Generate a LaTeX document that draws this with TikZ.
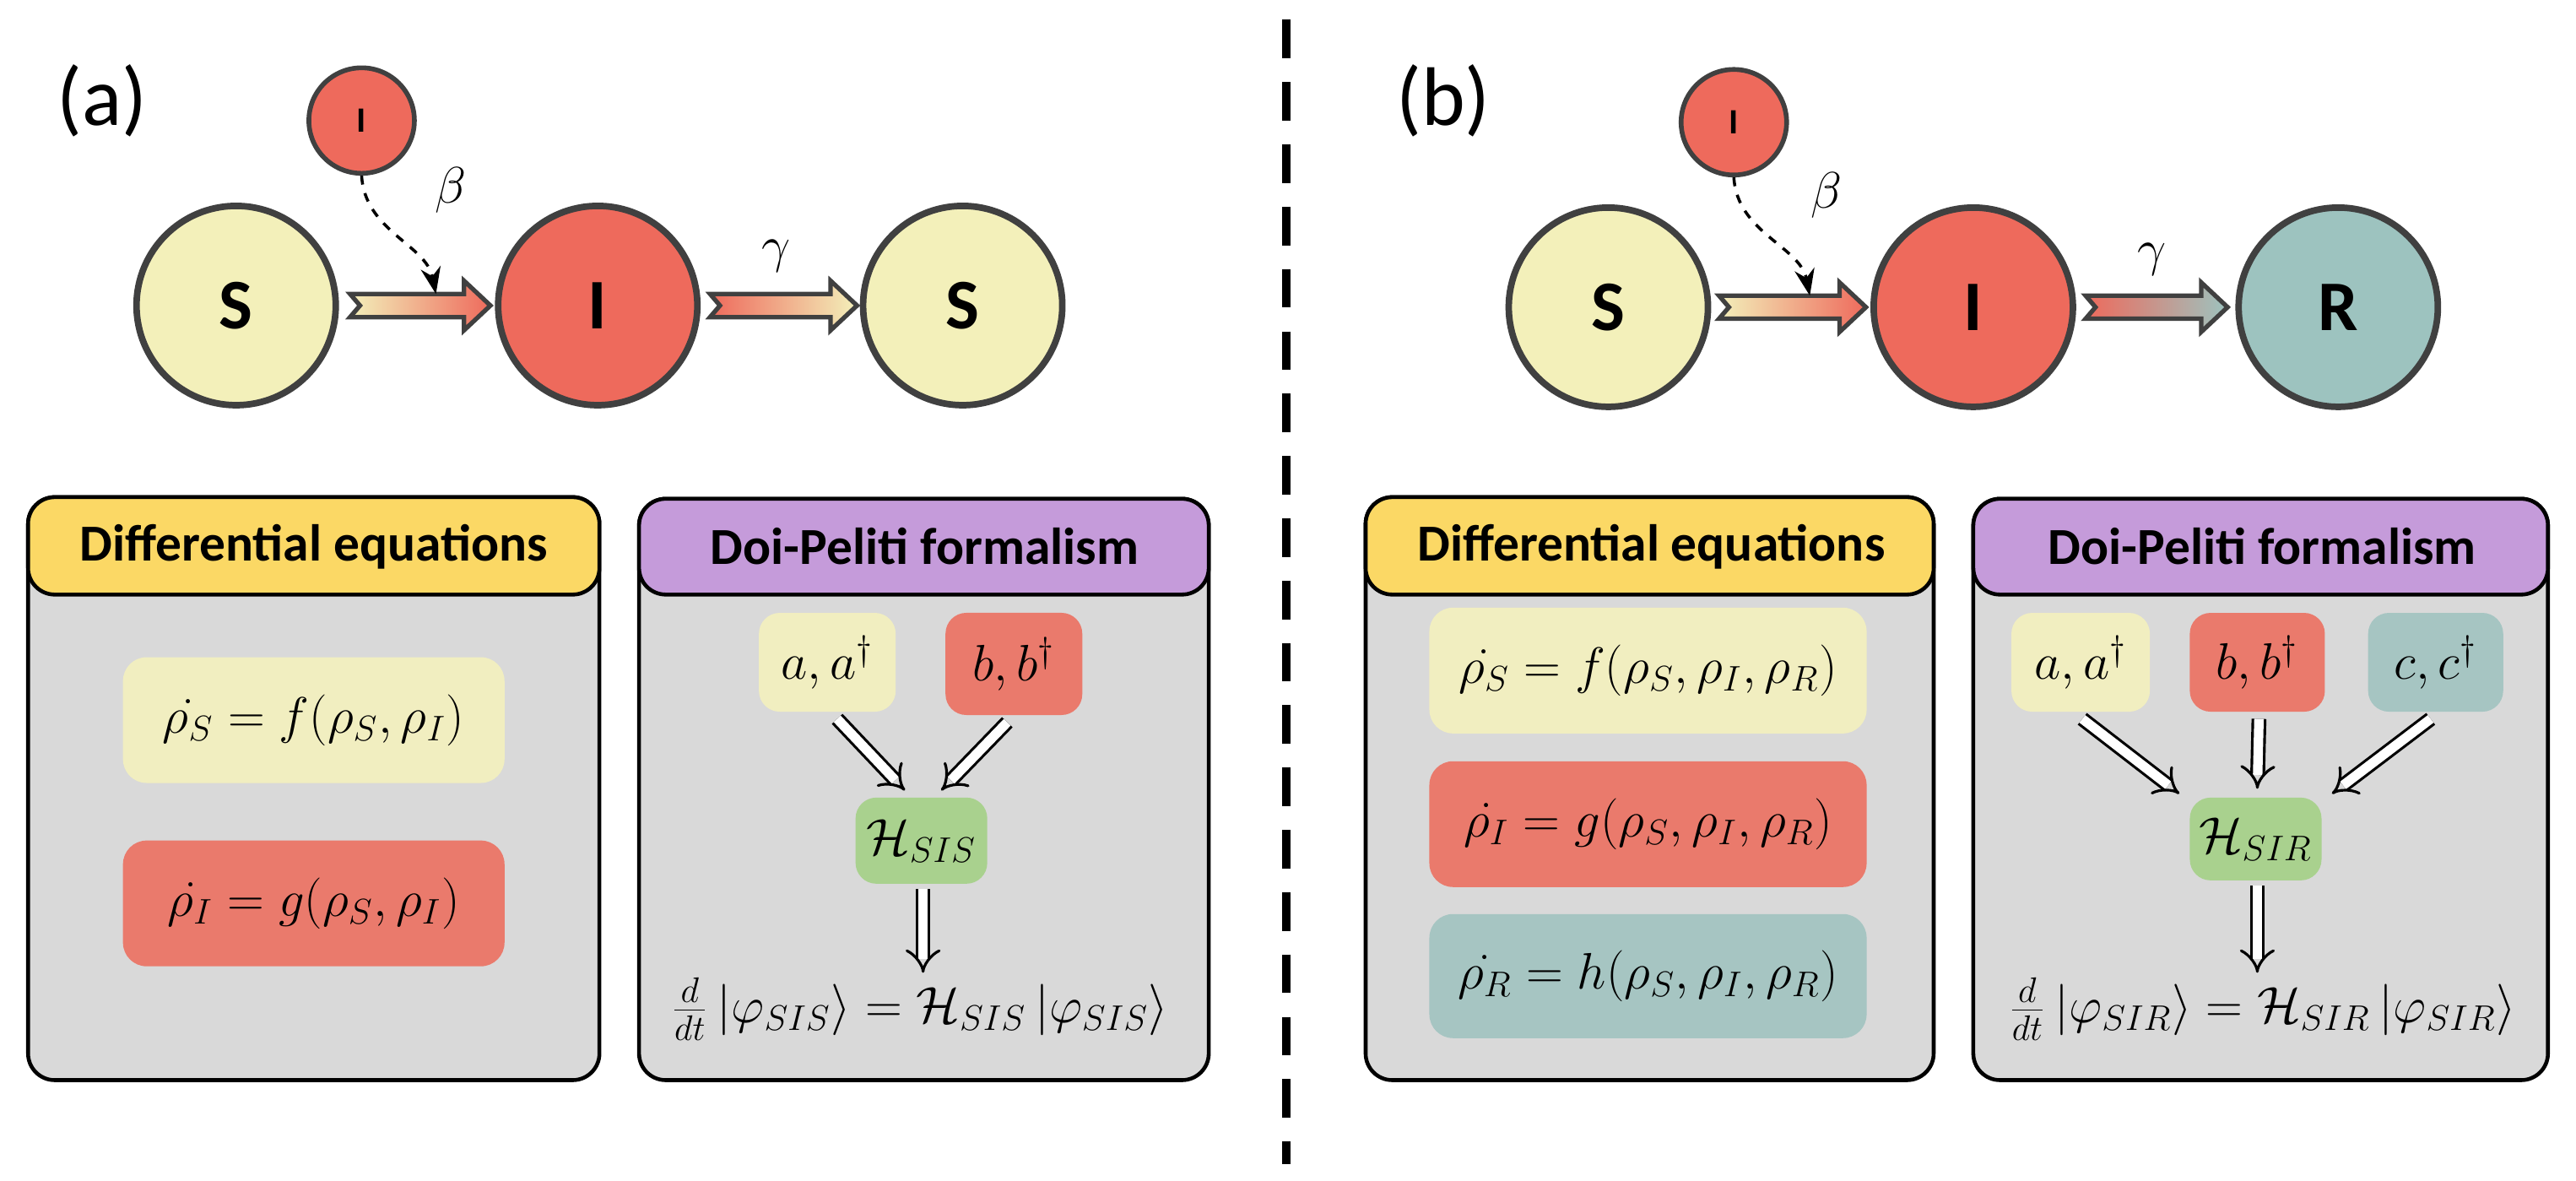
\documentclass[tikz,border=0pt]{standalone}
\usepackage{fontspec}
\setmainfont{Carlito}
\usetikzlibrary{arrows.meta}
\definecolor{cy}{HTML}{F3F0BA}
\definecolor{cr}{HTML}{EE6A5C}
\definecolor{ct}{HTML}{9DC3BF}
\definecolor{hy}{HTML}{FBD865}
\definecolor{hp}{HTML}{C59BDA}
\definecolor{cg}{HTML}{D9D9D9}
\definecolor{cgr}{HTML}{A9D18E}
\definecolor{ce}{HTML}{404040}
\definecolor{ebr}{HTML}{EA7A6C}
\definecolor{eby}{HTML}{F1EEC0}
\definecolor{ebt}{HTML}{A6C5C2}
\tikzset{
  big/.style={circle,draw=ce,line width=2.2pt,minimum size=2.36cm,inner sep=0pt,font=\fontsize{24}{28}\selectfont\bfseries},
  small/.style={circle,draw=ce,line width=1.6pt,fill=cr,minimum size=1.25cm,inner sep=0pt,font=\fontsize{12}{14}\selectfont\bfseries},
  panel/.style={draw=black,line width=1.3pt,rounded corners=9pt,fill=cg},
  head/.style={draw=black,line width=1.3pt,rounded corners=9pt},
  htext/.style={font=\fontsize{17.5}{20}\selectfont\bfseries},
  eq/.style={rounded corners=8pt,inner sep=0pt,font=\fontsize{18.5}{22}\selectfont},
  op/.style={rounded corners=7pt,inner sep=0pt,font=\fontsize{18.5}{22}\selectfont},
  hop/.style={rounded corners=7pt,inner sep=0pt,font=\fontsize{17}{20}\selectfont},
  hollow/.style={draw=black,line width=0.9pt,double=white,double distance=3.2pt,-{Implies[length=7pt]}},
  lab/.style={font=\fontsize{28}{32}\selectfont},
  grk/.style={font=\fontsize{18}{22}\selectfont},
  deq/.style={font=\fontsize{17}{20}\selectfont},
  tr/.style={draw=ce,line width=1.5pt},
}
\begin{document}
\begin{tikzpicture}[x=0.019564cm,y=-0.019564cm]
\useasboundingbox (0,0) rectangle (1560,715);
% divider
\draw[line width=3pt,dash pattern=on 13pt off 8pt] (779,12) -- (779,705);

% ---------- (a) ----------
\node[lab] (la) at (62,61) {(a)};
\node[small] (ia) at (219,73) {I};
\node[big,fill=cy] (s1) at (143,185) {S};
\node[big,fill=cr] (i1) at (362,185) {I};
\node[big,fill=cy] (s2) at (583,185) {S};
\shade[tr,left color=cy, right color=cr]
  (212,178) -- (281,178) -- (281,170) -- (297,185) -- (281,200) -- (281,192) -- (212,192) -- (218,185) -- cycle;
\shade[tr,left color=cr, right color=cy]
  (430,178) -- (503,178) -- (503,170) -- (519,185) -- (503,200) -- (503,192) -- (430,192) -- (436,185) -- cycle;
\coordinate (ta) at (264,178);
\draw[dashed,line width=1pt,-{Stealth[length=9pt]}] (ia.south) .. controls (221,140) and (258,148) .. (ta);
\node[grk] (ba) at (273,115) {$\beta$};
\node[grk] (ga) at (470,155) {$\gamma$};

\draw[panel] (17,301) rectangle (363,654);
\draw[head,fill=hy] (17,301) rectangle (363,360);
\node[htext] (h1) at (190,331) {Differential equations};
\node[eq,fill=eby,minimum width=4.52cm,minimum height=1.49cm] (e1) at (190,436) {$\dot{\rho_S}=f(\rho_S,\rho_I)$};
\node[eq,fill=ebr,minimum width=4.52cm,minimum height=1.49cm] (e2) at (190,547) {$\dot{\rho_I}=g(\rho_S,\rho_I)$};

\draw[panel] (387,302) rectangle (732,654);
\draw[head,fill=hp] (387,302) rectangle (732,360);
\node[htext] (h2) at (560,331) {Doi-Peliti formalism};
\node[op,fill=eby,minimum width=1.62cm,minimum height=1.17cm] (a1) at (501,401) {$a,a^\dagger$};
\node[op,fill=ebr,minimum width=1.62cm,minimum height=1.21cm] (b1) at (614,402) {$b,b^\dagger$};
\node[hop,fill=cgr,minimum width=1.56cm,minimum height=1.02cm] (H1) at (558,509) {$\mathcal{H}_{SIS}$};
\node[deq] (q1) at (557,611) {$\frac{d}{dt}\left|\varphi_{SIS}\right\rangle=\mathcal{H}_{SIS}\left|\varphi_{SIS}\right\rangle$};
\draw[hollow] ([shift={(6,4)}]a1.south) -- ([shift={(-10,-4)}]H1.north);
\draw[hollow] ([shift={(-4,4)}]b1.south) -- ([shift={(12,-4)}]H1.north);
\draw[hollow] ([shift={(1,3)}]H1.south) -- ([shift={(1,-22)}]H1.south |- q1.center);

% ---------- (b) ----------
\node[lab] (lb) at (874,61) {(b)};
\node[small] (ib) at (1050,74) {I};
\node[big,fill=cy] (s3) at (974,186) {S};
\node[big,fill=cr] (i3) at (1195,186) {I};
\node[big,fill=ct] (r3) at (1416,186) {R};
\shade[tr,left color=cy, right color=cr]
  (1041,179) -- (1114,179) -- (1114,171) -- (1130,186) -- (1114,201) -- (1114,193) -- (1041,193) -- (1047,186) -- cycle;
\shade[tr,left color=cr, right color=ct]
  (1263,179) -- (1333,179) -- (1333,171) -- (1349,186) -- (1333,201) -- (1333,193) -- (1263,193) -- (1269,186) -- cycle;
\coordinate (tb) at (1096,179);
\draw[dashed,line width=1pt,-{Stealth[length=9pt]}] (ib.south) .. controls (1052,141) and (1090,149) .. (tb);
\node[grk] (bb) at (1106,118) {$\beta$};
\node[grk] (gb) at (1303,157) {$\gamma$};

\draw[panel] (827,301) rectangle (1171,654);
\draw[head,fill=hy] (827,301) rectangle (1171,360);
\node[htext] (h3) at (1000,331) {Differential equations};
\node[eq,fill=eby,minimum width=5.18cm,minimum height=1.49cm] (e3) at (998,406) {$\dot{\rho_S}=f(\rho_S,\rho_I,\rho_R)$};
\node[eq,fill=ebr,minimum width=5.18cm,minimum height=1.49cm] (e4) at (998,499) {$\dot{\rho_I}=g(\rho_S,\rho_I,\rho_R)$};
\node[eq,fill=ebt,minimum width=5.18cm,minimum height=1.47cm] (e5) at (998,591) {$\dot{\rho_R}=h(\rho_S,\rho_I,\rho_R)$};

\draw[panel] (1195,302) rectangle (1543,654);
\draw[head,fill=hp] (1195,302) rectangle (1543,360);
\node[htext] (h4) at (1370,331) {Doi-Peliti formalism};
\node[op,fill=eby,minimum width=1.64cm,minimum height=1.17cm] (a2) at (1260,401) {$a,a^\dagger$};
\node[op,fill=ebr,minimum width=1.6cm,minimum height=1.17cm] (b2) at (1367,401) {$b,b^\dagger$};
\node[op,fill=ebt,minimum width=1.6cm,minimum height=1.17cm] (c2) at (1475,401) {$c,c^\dagger$};
\node[hop,fill=cgr,minimum width=1.56cm,minimum height=0.98cm] (H2) at (1366,508) {$\mathcal{H}_{SIR}$};
\node[deq] (q2) at (1370,611) {$\frac{d}{dt}\left|\varphi_{SIR}\right\rangle=\mathcal{H}_{SIR}\left|\varphi_{SIR}\right\rangle$};
\draw[hollow] ([shift={(1,4)}]a2.south) -- ([shift={(-6,-2)}]H2.north west);
\draw[hollow] ([shift={(1,4)}]b2.south) -- ([shift={(1,-5)}]H2.north);
\draw[hollow] ([shift={(-3,4)}]c2.south) -- ([shift={(6,-2)}]H2.north east);
\draw[hollow] ([shift={(1,3)}]H2.south) -- ([shift={(1,-22)}]H2.south |- q2.center);
\end{tikzpicture}
\end{document}
